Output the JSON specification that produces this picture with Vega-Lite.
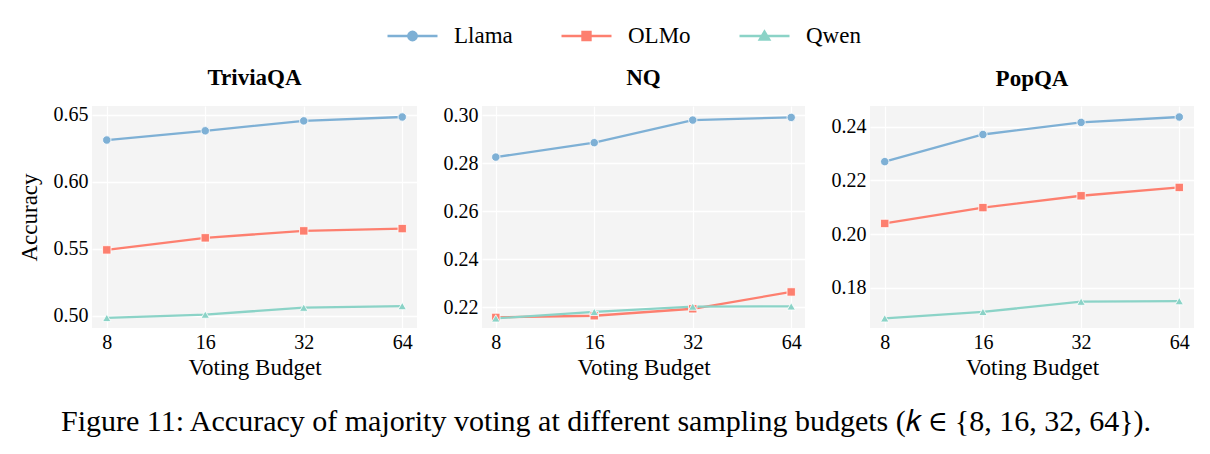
{
  "$schema": "https://vega.github.io/schema/vega-lite/v6.json",
  "padding": {"left": 18, "top": 24, "right": 10, "bottom": 10},
  "background": "white",
  "title": {"text": "Figure 11: Accuracy of majority voting at different sampling budgets (𝑘 ∈ {8, 16, 32, 64}).", "orient": "bottom", "anchor": "middle", "font": "Liberation Serif", "fontSize": 30, "fontWeight": "normal", "color": "black", "offset": 28},
  "data": {"values": [
    {"dataset": "TriviaQA", "model": "Llama", "budget": 8, "accuracy": 0.6313},
    {"dataset": "TriviaQA", "model": "Llama", "budget": 16, "accuracy": 0.6382},
    {"dataset": "TriviaQA", "model": "Llama", "budget": 32, "accuracy": 0.6456},
    {"dataset": "TriviaQA", "model": "Llama", "budget": 64, "accuracy": 0.6485},
    {"dataset": "TriviaQA", "model": "OLMo", "budget": 8, "accuracy": 0.5493},
    {"dataset": "TriviaQA", "model": "OLMo", "budget": 16, "accuracy": 0.5583},
    {"dataset": "TriviaQA", "model": "OLMo", "budget": 32, "accuracy": 0.5635},
    {"dataset": "TriviaQA", "model": "OLMo", "budget": 64, "accuracy": 0.5652},
    {"dataset": "TriviaQA", "model": "Qwen", "budget": 8, "accuracy": 0.4985},
    {"dataset": "TriviaQA", "model": "Qwen", "budget": 16, "accuracy": 0.5010},
    {"dataset": "TriviaQA", "model": "Qwen", "budget": 32, "accuracy": 0.5062},
    {"dataset": "TriviaQA", "model": "Qwen", "budget": 64, "accuracy": 0.5074},
    {"dataset": "NQ", "model": "Llama", "budget": 8, "accuracy": 0.2825},
    {"dataset": "NQ", "model": "Llama", "budget": 16, "accuracy": 0.2885},
    {"dataset": "NQ", "model": "Llama", "budget": 32, "accuracy": 0.2979},
    {"dataset": "NQ", "model": "Llama", "budget": 64, "accuracy": 0.2990},
    {"dataset": "NQ", "model": "OLMo", "budget": 8, "accuracy": 0.2158},
    {"dataset": "NQ", "model": "OLMo", "budget": 16, "accuracy": 0.2165},
    {"dataset": "NQ", "model": "OLMo", "budget": 32, "accuracy": 0.2194},
    {"dataset": "NQ", "model": "OLMo", "budget": 64, "accuracy": 0.2264},
    {"dataset": "NQ", "model": "Qwen", "budget": 8, "accuracy": 0.2154},
    {"dataset": "NQ", "model": "Qwen", "budget": 16, "accuracy": 0.2181},
    {"dataset": "NQ", "model": "Qwen", "budget": 32, "accuracy": 0.2203},
    {"dataset": "NQ", "model": "Qwen", "budget": 64, "accuracy": 0.2204},
    {"dataset": "PopQA", "model": "Llama", "budget": 8, "accuracy": 0.2270},
    {"dataset": "PopQA", "model": "Llama", "budget": 16, "accuracy": 0.2371},
    {"dataset": "PopQA", "model": "Llama", "budget": 32, "accuracy": 0.2416},
    {"dataset": "PopQA", "model": "Llama", "budget": 64, "accuracy": 0.2436},
    {"dataset": "PopQA", "model": "OLMo", "budget": 8, "accuracy": 0.2040},
    {"dataset": "PopQA", "model": "OLMo", "budget": 16, "accuracy": 0.2099},
    {"dataset": "PopQA", "model": "OLMo", "budget": 32, "accuracy": 0.2143},
    {"dataset": "PopQA", "model": "OLMo", "budget": 64, "accuracy": 0.2174},
    {"dataset": "PopQA", "model": "Qwen", "budget": 8, "accuracy": 0.1687},
    {"dataset": "PopQA", "model": "Qwen", "budget": 16, "accuracy": 0.1711},
    {"dataset": "PopQA", "model": "Qwen", "budget": 32, "accuracy": 0.1749},
    {"dataset": "PopQA", "model": "Qwen", "budget": 64, "accuracy": 0.1751}
  ]},
  "config": {
    "font": "Liberation Serif",
    "view": {"fill": "#f4f4f4", "stroke": null},
    "axis": {"grid": true, "gridColor": "white", "gridWidth": 1.3, "gridOpacity": 1, "domain": false, "ticks": false, "labelFontSize": 20, "titleFontSize": 23, "labelColor": "black", "titleColor": "black", "titleFontWeight": "normal", "labelPadding": 4, "labelFont": "Liberation Serif", "titleFont": "Liberation Serif"},
    "axisY": {"titlePadding": 12},
    "axisX": {"titlePadding": 4, "labelAngle": 0},
    "title": {"fontSize": 23, "fontWeight": "bold", "font": "Liberation Serif", "offset": 15, "color": "black"},
    "legend": {"orient": "none", "direction": "horizontal", "legendX": 294, "legendY": -82, "padding": 0, "title": null, "labelFontSize": 23, "labelFont": "Liberation Serif", "labelColor": "black", "symbolSize": 2500, "symbolStrokeWidth": 2.4, "columnPadding": 47, "labelOffset": 15, "clipHeight": 24}
  },
  "spacing": 26,
  "hconcat": [
    {
      "title": "TriviaQA",
      "width": 325, "height": 222,
      "transform": [{"filter": "datum.dataset === 'TriviaQA'"}],
      "encoding": {
        "x": {"field": "budget", "type": "ordinal", "scale": {"type": "point", "padding": 0.15}, "axis": {"title": "Voting Budget"}},
        "y": {"field": "accuracy", "type": "quantitative", "scale": {"domain": [0.491, 0.6567], "nice": false, "zero": false}, "axis": {"title": "Accuracy", "values": [0.5, 0.55, 0.6, 0.65], "format": ".2f"}},
        "color": {"field": "model", "type": "nominal", "scale": {"domain": ["Llama", "OLMo", "Qwen"], "range": ["#7eb0d5", "#fd7f6f", "#8bd3c7"]},
          "legend": {"symbolType": "M-1,0L1,0", "encode": {"symbols": {"update": {
            "shape": {"signal": "datum.value === 'Llama' ? 'M-1,0L1,0M-0.17,0A0.17,0.17,0,1,0,0.17,0A0.17,0.17,0,1,0,-0.17,0Z' : datum.value === 'OLMo' ? 'M-1,0L1,0M-0.16,-0.16L0.16,-0.16L0.16,0.16L-0.16,0.16Z' : 'M-1,0L1,0M0,-0.18L0.19,0.14L-0.19,0.14Z'"},
            "stroke": {"signal": "scale('color', datum.value)"},
            "fill": {"signal": "scale('color', datum.value)"},
            "strokeWidth": {"value": 2.4},
            "opacity": {"value": 1}
          }}}}}
      },
      "layer": [
        {"mark": {"type": "line", "strokeWidth": 2.3}},
        {"mark": {"type": "point", "filled": true, "size": 70, "stroke": "white", "strokeWidth": 0.8, "opacity": 1},
         "encoding": {"shape": {"field": "model", "type": "nominal", "scale": {"domain": ["Qwen", "OLMo", "Llama"], "range": ["triangle-up", "square", "circle"]}, "legend": null}}}
      ]
    },
    {
      "title": "NQ",
      "width": 323, "height": 222,
      "transform": [{"filter": "datum.dataset === 'NQ'"}],
      "encoding": {
        "x": {"field": "budget", "type": "ordinal", "scale": {"type": "point", "padding": 0.14}, "axis": {"title": "Voting Budget"}},
        "y": {"field": "accuracy", "type": "quantitative", "scale": {"domain": [0.2114, 0.30375], "nice": false, "zero": false}, "axis": {"title": null, "values": [0.22, 0.24, 0.26, 0.28, 0.30], "format": ".2f"}},
        "color": {"field": "model", "type": "nominal", "scale": {"domain": ["Llama", "OLMo", "Qwen"], "range": ["#7eb0d5", "#fd7f6f", "#8bd3c7"]}}
      },
      "layer": [
        {"mark": {"type": "line", "strokeWidth": 2.3}},
        {"mark": {"type": "point", "filled": true, "size": 70, "stroke": "white", "strokeWidth": 0.8, "opacity": 1},
         "encoding": {"shape": {"field": "model", "type": "nominal", "scale": {"domain": ["Qwen", "OLMo", "Llama"], "range": ["triangle-up", "square", "circle"]}, "legend": null}}}
      ]
    },
    {
      "title": "PopQA",
      "width": 324, "height": 222,
      "transform": [{"filter": "datum.dataset === 'PopQA'"}],
      "encoding": {
        "x": {"field": "budget", "type": "ordinal", "scale": {"type": "point", "padding": 0.15}, "axis": {"title": "Voting Budget"}},
        "y": {"field": "accuracy", "type": "quantitative", "scale": {"domain": [0.1651, 0.2477], "nice": false, "zero": false}, "axis": {"title": null, "values": [0.18, 0.2, 0.22, 0.24], "format": ".2f"}},
        "color": {"field": "model", "type": "nominal", "scale": {"domain": ["Llama", "OLMo", "Qwen"], "range": ["#7eb0d5", "#fd7f6f", "#8bd3c7"]}}
      },
      "layer": [
        {"mark": {"type": "line", "strokeWidth": 2.3}},
        {"mark": {"type": "point", "filled": true, "size": 70, "stroke": "white", "strokeWidth": 0.8, "opacity": 1},
         "encoding": {"shape": {"field": "model", "type": "nominal", "scale": {"domain": ["Qwen", "OLMo", "Llama"], "range": ["triangle-up", "square", "circle"]}, "legend": null}}}
      ]
    }
  ]
}
